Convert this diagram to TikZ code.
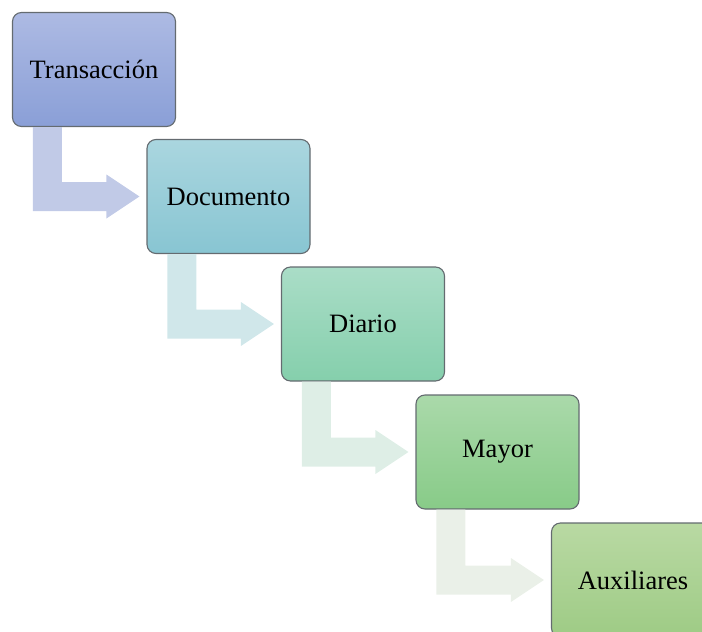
\documentclass[tikz,border=0pt]{standalone}
\usepackage{fontspec}
\setmainfont{Liberation Serif}
\usetikzlibrary{calc}

\definecolor{bAtop}{HTML}{ADBAE3}\definecolor{bAbot}{HTML}{8A9FD7}
\definecolor{bBtop}{HTML}{AAD6DF}\definecolor{bBbot}{HTML}{88C5D2}
\definecolor{bCtop}{HTML}{AADDC7}\definecolor{bCbot}{HTML}{85CFAC}
\definecolor{bDtop}{HTML}{AAD9AA}\definecolor{bDbot}{HTML}{88CB88}
\definecolor{bEtop}{HTML}{B9D9A3}\definecolor{bEbot}{HTML}{9ECB85}
\definecolor{aA}{HTML}{C1CAE7}
\definecolor{aB}{HTML}{D0E7EA}
\definecolor{aC}{HTML}{DEEEE6}
\definecolor{aD}{HTML}{EAF0E8}
\definecolor{edge}{HTML}{646B70}

\tikzset{
  stagebox/.style={draw=edge, line width=1.1pt, rounded corners=9pt,
    minimum width=163pt, minimum height=114pt, inner sep=0pt,
    font=\fontsize{26.5}{30}\selectfont}
}

% bent block arrow from the bottom of box #1 into the left side of box #2
\newcommand{\bentarrow}[3]{%
  \fill[#3] let \p1=(#1.south west), \p2=(#2.west) in
    (\x1+21pt,\y1) -- (\x1+50pt,\y1) -- (\x1+50pt,\y2+14.5pt)
    -- (\x2-40pt,\y2+14.5pt) -- (\x2-40pt,\y2+22pt) -- (\x2-7pt,\y2)
    -- (\x2-40pt,\y2-22pt) -- (\x2-40pt,\y2-14.5pt)
    -- (\x1+21pt,\y2-14.5pt) -- cycle;}

\begin{document}
\begin{tikzpicture}[x=1pt,y=-1pt]
  \useasboundingbox (0,0) rectangle (702,632);
  \clip (0,0) rectangle (702,632);

  \node[stagebox, top color=bAtop, bottom color=bAbot] (t) at (94,69.5) {Transacción};
  \node[stagebox, top color=bBtop, bottom color=bBbot] (d) at (228.5,196.5) {Documento};
  \node[stagebox, top color=bCtop, bottom color=bCbot] (j) at (363,324) {Diario};
  \node[stagebox, top color=bDtop, bottom color=bDbot] (m) at (497.5,452) {Mayor};
  \node[stagebox, top color=bEtop, bottom color=bEbot] (a) at (633,580) {Auxiliares};

  \bentarrow{t}{d}{aA}
  \bentarrow{d}{j}{aB}
  \bentarrow{j}{m}{aC}
  \bentarrow{m}{a}{aD}
\end{tikzpicture}
\end{document}
